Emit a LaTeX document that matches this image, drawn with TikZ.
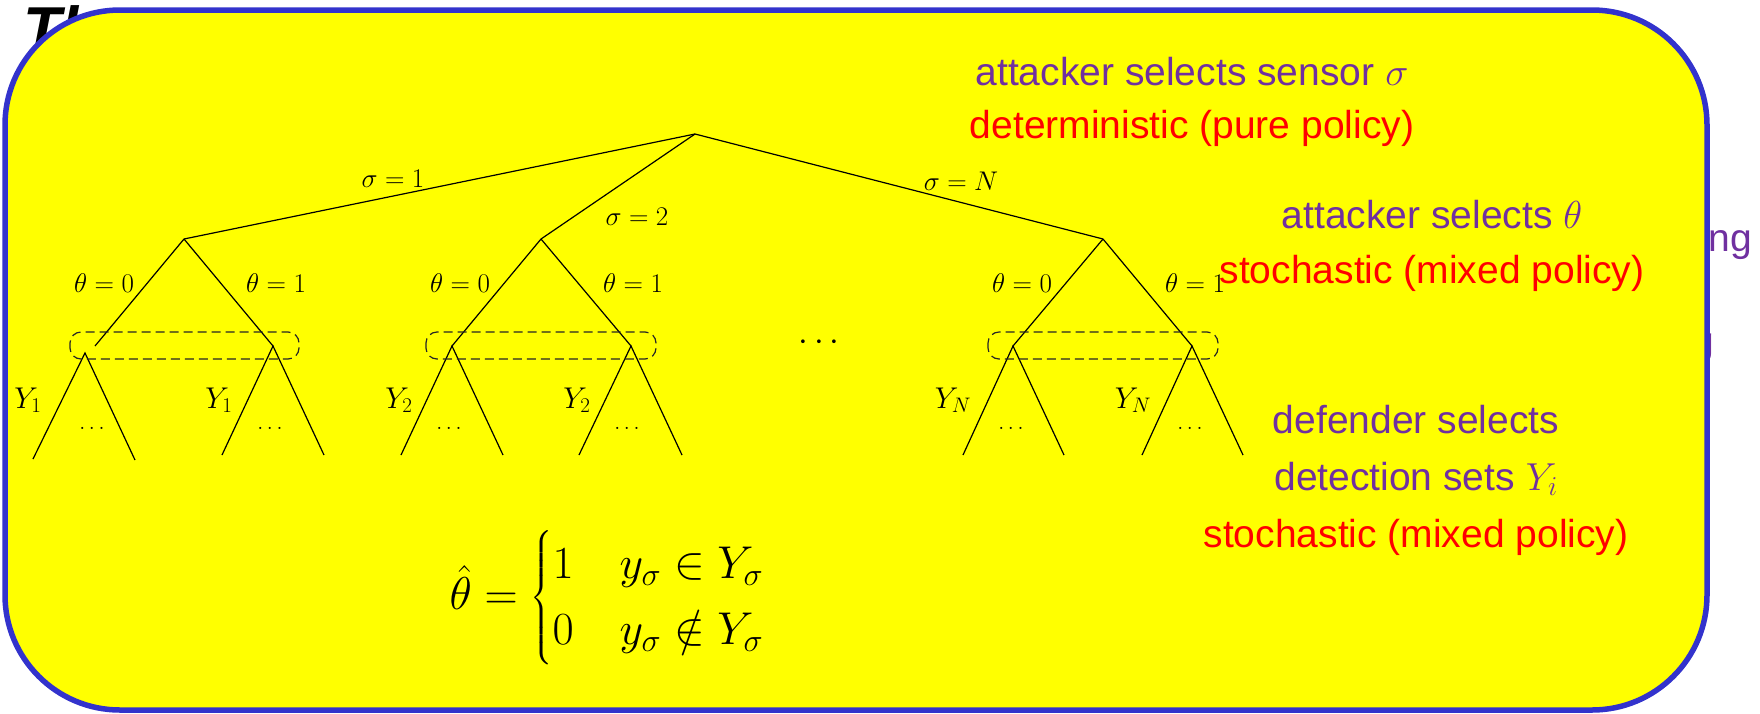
\RequirePackage{fix-cm}
\documentclass[tikz,border=0pt]{standalone}
\usepackage{amsmath}
\usepackage[no-math]{fontspec}
\newfontfamily\helv{Liberation Sans}
\definecolor{boxblue}{RGB}{51,51,204}
\definecolor{ppl}{RGB}{112,48,160}
\definecolor{yel}{RGB}{255,255,0}
\definecolor{pred}{RGB}{255,0,0}
\begin{document}
\begin{tikzpicture}[x=1pt,y=-1pt,
  edge/.style={line width=1.2pt, black},
  infoset/.style={line width=1.2pt, black!85, dash pattern=on 9pt off 5pt, rounded corners=11pt},
  lab/.style={inner sep=0pt, anchor=base, font=\fontsize{27}{32}\selectfont},
  ylab/.style={inner sep=0pt, anchor=base, font=\fontsize{30}{36}\selectfont},
  dotlab/.style={inner sep=0pt, anchor=base, font=\fontsize{22}{26}\selectfont},
  note/.style={inner sep=0pt, anchor=base, font=\helv\fontsize{39}{47}\selectfont},
]
\useasboundingbox (0,0) rectangle (1760,713);
% fragments of text lying behind the box
\node[inner sep=0pt, anchor=base west, font=\helv\bfseries\itshape\fontsize{62}{66}\selectfont] (title) at (23,50) {Th};
\node[note, anchor=base east, text=ppl] (frag1) at (1752,251) {ng};
\node[note, anchor=base east, text=ppl] (frag2) at (1714,354) {g};
% the box
\draw[line width=5.5pt, draw=boxblue, fill=yel, rounded corners=115pt] (5,10) rectangle (1707,710);
% tree
\coordinate (root) at (695,134);
\coordinate (a1) at (184,239);
\coordinate (a2) at (541,239);
\coordinate (aN) at (1103,239);
\coordinate (a1end) at (95,346);
\coordinate (b10) at (85,353);
\coordinate (b11) at (273,346);
\coordinate (b20) at (452,346);
\coordinate (b21) at (631,346);
\coordinate (bN0) at (1013,346);
\coordinate (bN1) at (1192,346);
\coordinate (l10a) at (33,459);
\coordinate (l10b) at (135,460);
\coordinate (l11a) at (222,455);
\coordinate (l11b) at (324,455);
\coordinate (l20a) at (401,455);
\coordinate (l20b) at (503,455);
\coordinate (l21a) at (579,455);
\coordinate (l21b) at (682,455);
\coordinate (lN0a) at (963,455);
\coordinate (lN0b) at (1064,455);
\coordinate (lN1a) at (1142,455);
\coordinate (lN1b) at (1243,455);
\draw[edge] (root) -- (a1);
\draw[edge] (root) -- (a2);
\draw[edge] (root) -- (aN);
\draw[edge] (a1) -- (a1end);
\draw[edge] (a1) -- (b11);
\draw[edge] (a2) -- (b20);
\draw[edge] (a2) -- (b21);
\draw[edge] (aN) -- (bN0);
\draw[edge] (aN) -- (bN1);
\draw[edge] (l10a) -- (b10) -- (l10b);
\draw[edge] (l11a) -- (b11) -- (l11b);
\draw[edge] (l20a) -- (b20) -- (l20b);
\draw[edge] (l21a) -- (b21) -- (l21b);
\draw[edge] (lN0a) -- (bN0) -- (lN0b);
\draw[edge] (lN1a) -- (bN1) -- (lN1b);
% information sets
\coordinate (s1a) at (70,332); \coordinate (s1b) at (299,359);
\coordinate (s2a) at (426,332); \coordinate (s2b) at (656,359);
\coordinate (sNa) at (988,332); \coordinate (sNb) at (1218,359);
\draw[infoset] (s1a) rectangle (s1b);
\draw[infoset] (s2a) rectangle (s2b);
\draw[infoset] (sNa) rectangle (sNb);
% labels
\node[lab] (sg1) at (393,187) {$\sigma=1$};
\node[lab] (sg2) at (637,225) {$\sigma=2$};
\node[lab] (sgN) at (961,190) {$\sigma=N$};
\node[lab] (t10) at (104,292) {$\theta=0$};
\node[lab] (t11) at (276,292) {$\theta=1$};
\node[lab] (t20) at (460,292) {$\theta=0$};
\node[lab] (t21) at (633,292) {$\theta=1$};
\node[lab] (tN0) at (1022,292) {$\theta=0$};
\node[lab] (tN1) at (1195,292) {$\theta=1$};
\node[ylab] (y10) at (28,408) {$Y_1$};
\node[ylab] (y11) at (219,408) {$Y_1$};
\node[ylab] (y20) at (399,408) {$Y_2$};
\node[ylab] (y21) at (577,408) {$Y_2$};
\node[ylab] (yN0) at (953,408) {$Y_N$};
\node[ylab] (yN1) at (1133,408) {$Y_N$};
\node[dotlab] (d10) at (92,429) {$\ldots$};
\node[dotlab] (d11) at (270,429) {$\ldots$};
\node[dotlab] (d20) at (449,429) {$\ldots$};
\node[dotlab] (d21) at (627,429) {$\ldots$};
\node[dotlab] (dN0) at (1011,429) {$\ldots$};
\node[dotlab] (dN1) at (1190,429) {$\ldots$};
\node[inner sep=0pt, anchor=base, font=\fontsize{35}{40}\selectfont] (mid) at (822,350) {$\cdots$};
% formula
\node[inner sep=0pt, font=\fontsize{46}{55}\selectfont] (est) at (607,598)
  {$\displaystyle \hat\theta = \begin{cases}1 & y_\sigma\in Y_\sigma\\ 0 & y_\sigma\notin Y_\sigma\end{cases}$};
% notes
\node[note, text=ppl] (n1) at (1192,85) {attacker selects sensor $\sigma$};
\node[note, text=pred] (n2) at (1192,138) {deterministic (pure policy)};
\node[note, text=ppl] (n3) at (1432,228) {attacker selects $\theta$};
\node[note, text=pred] (n4) at (1432,283) {stochastic (mixed policy)};
\node[note, text=ppl] (n5) at (1416,433) {defender selects};
\node[note, text=ppl] (n6) at (1416,490) {detection sets $Y_i$};
\node[note, text=pred] (n7) at (1416,547) {stochastic (mixed policy)};
\end{tikzpicture}
\end{document}
